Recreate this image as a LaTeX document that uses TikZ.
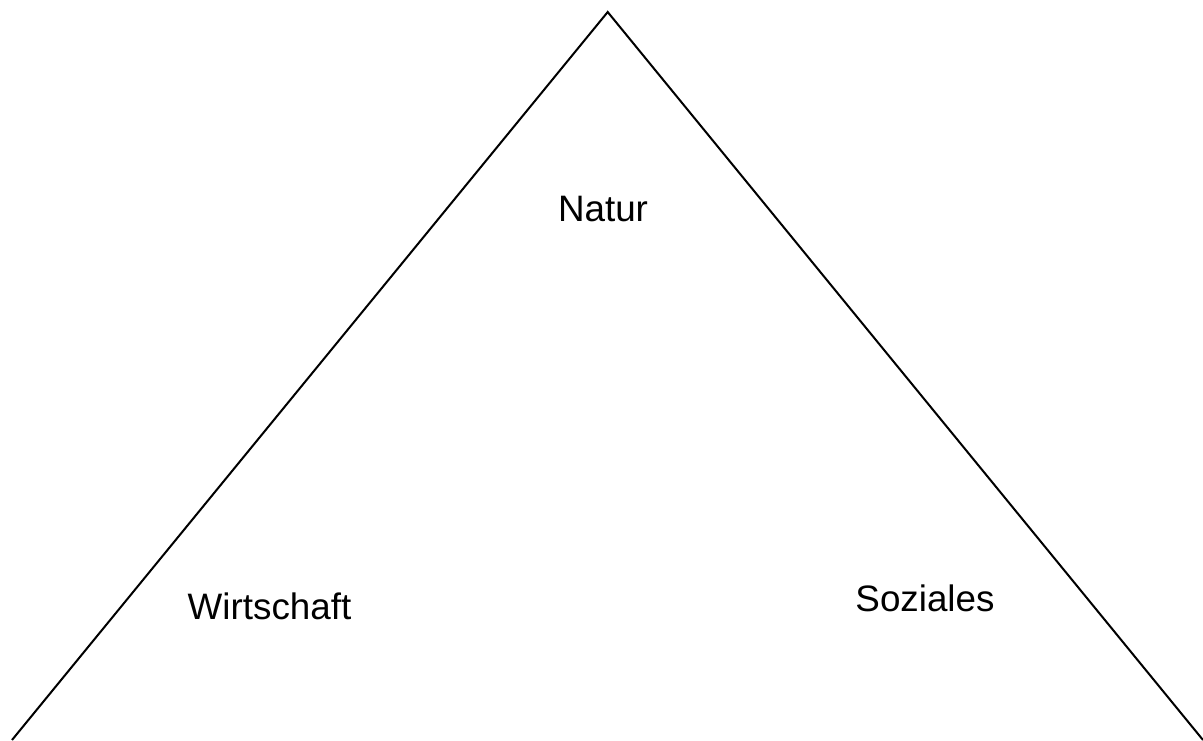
\documentclass[tikz,border=0pt]{standalone}
\usepackage{fontspec}
\setmainfont{Liberation Sans}
\begin{document}
\begin{tikzpicture}[x=1pt,y=-1pt,
  side/.style={line width=2pt,line join=miter},
  label/.style={anchor=base,inner sep=0pt,font=\fontsize{36.8}{40}\selectfont}]
\useasboundingbox (0,0) rectangle (1203,740);
\clip (0,0) rectangle (1203,740);
\coordinate (apex) at (607.7,12);
\coordinate (bl) at (12,740);
\coordinate (br) at (1203,740);
\draw[side] (bl) -- (apex) -- (br);
\node[label] (natur) at (603,221.7) {Natur};
\node[label] (wirt) at (269.5,619) {Wirtschaft};
\node[label] (soz) at (925,611.7) {Soziales};
\end{tikzpicture}
\end{document}
